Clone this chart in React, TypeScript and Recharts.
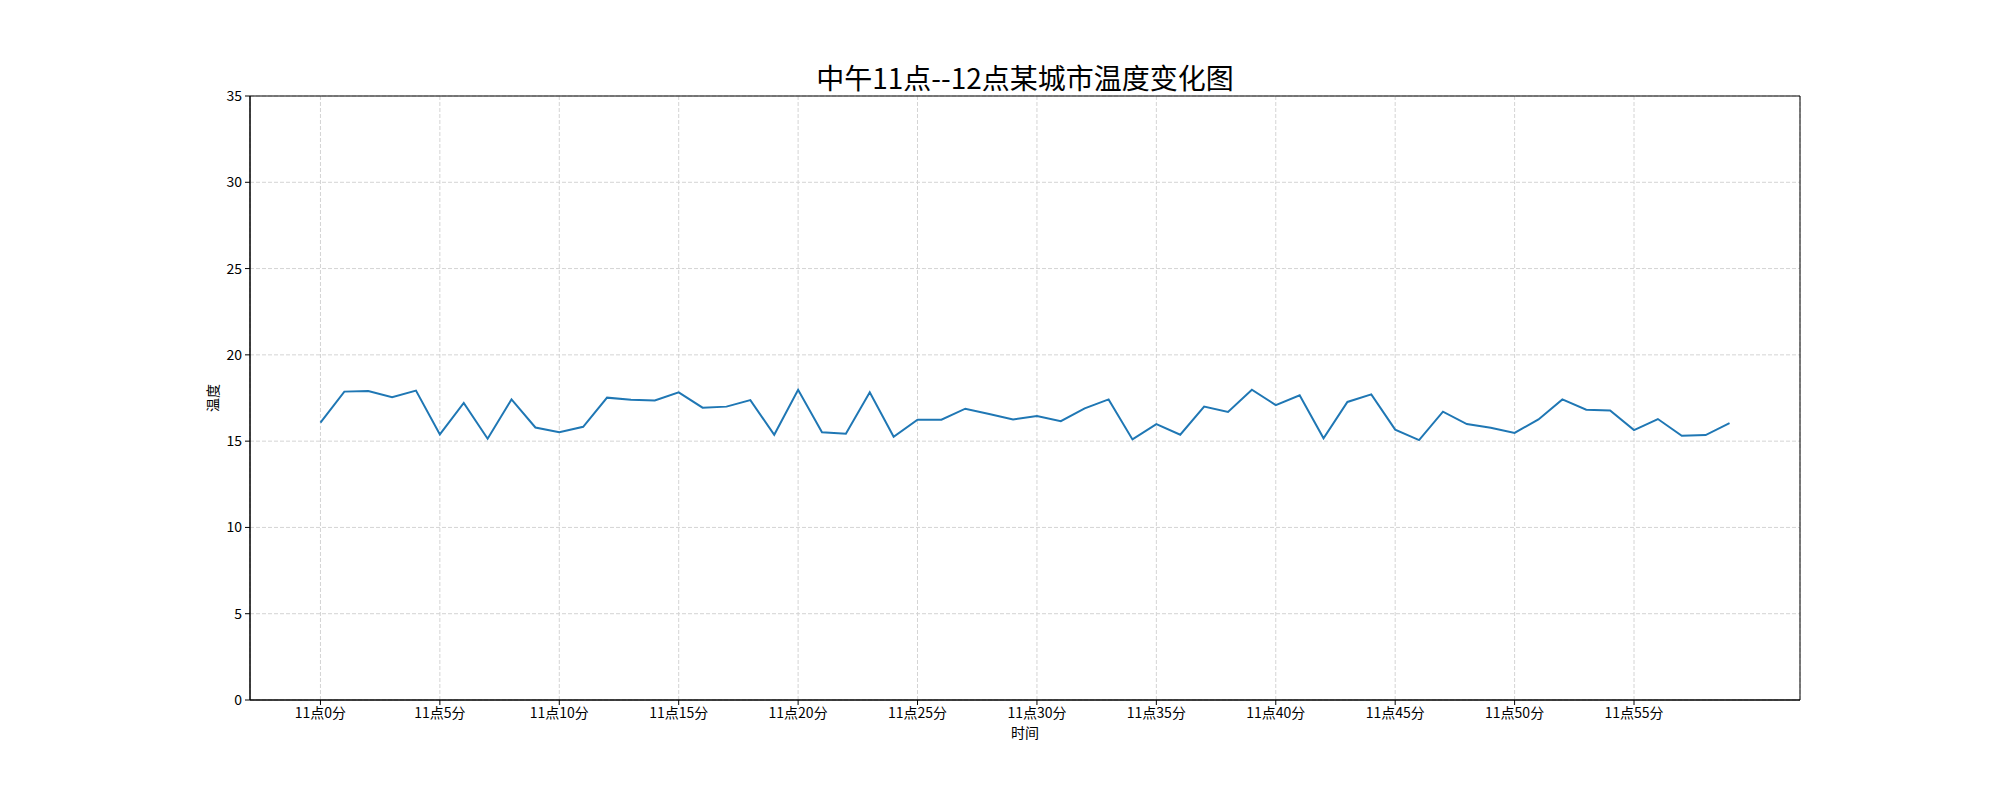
import React from 'react'
import { LineChart, Line, XAxis, YAxis, CartesianGrid, ReferenceArea } from 'recharts'

// minutes after 11:00
const minutes = [
  0, 1, 2, 3, 4, 5, 6, 7, 8, 9, 10, 11, 12, 13, 14, 15, 16, 17, 18, 19,
  20, 21, 22, 23, 24, 25, 26, 27, 28, 29, 30, 31, 32, 33, 34, 35, 36, 37, 38, 39,
  40, 41, 42, 43, 44, 45, 46, 47, 48, 49, 50, 51, 52, 53, 54, 55, 56, 57, 58, 59,
]

const temperatures = [
  16.07, 17.87, 17.91, 17.54, 17.93, 15.39, 17.21, 15.14, 17.42, 15.79,
  15.52, 15.83, 17.52, 17.4, 17.36, 17.83, 16.94, 17.0, 17.38, 15.37,
  17.98, 15.52, 15.43, 17.83, 15.25, 16.24, 16.24, 16.88, 16.57, 16.26,
  16.45, 16.16, 16.9, 17.42, 15.1, 15.99, 15.37, 17.0, 16.69, 17.98,
  17.09, 17.66, 15.17, 17.27, 17.71, 15.67, 15.06, 16.71, 15.99, 15.78,
  15.48, 16.26, 17.42, 16.82, 16.78, 15.64, 16.28, 15.31, 15.35, 16.05,
]

const xTicks = [0, 5, 10, 15, 20, 25, 30, 35, 40, 45, 50, 55]
const xTickLabels = [
  '11点0分', '11点5分', '11点10分', '11点15分', '11点20分', '11点25分',
  '11点30分', '11点35分', '11点40分', '11点45分', '11点50分', '11点55分',
]
const yTicks = [0, 5, 10, 15, 20, 25, 30, 35]

const data = minutes.map((m, i) => ({ minute: m, temp: temperatures[i] }))

const font = '"Noto Sans CJK SC", "Noto Sans", sans-serif'
const tickStyle = { fontSize: 14, fill: '#000', fontFamily: font }
const xDomain: [number, number] = [-2.95, 61.95]

export default function App() {
  return (
    <div style={{ position: 'absolute', left: 0, top: 0, width: 2000, height: 800, background: '#fff' }}>
      <LineChart
        width={2000}
        height={800}
        data={data}
        margin={{ top: 96, right: 200, left: 200, bottom: 60 }}
      >
        <CartesianGrid stroke="#d4d4d4" strokeDasharray="4 2" />
        <XAxis
          dataKey="minute"
          type="number"
          domain={xDomain}
          ticks={xTicks}
          tickFormatter={(v: number) => xTickLabels[xTicks.indexOf(v)]}
          height={40}
          stroke="#000"
          tickSize={5}
          tickMargin={3}
          tick={tickStyle}
          allowDataOverflow
        />
        <YAxis
          domain={[0, 35]}
          ticks={yTicks}
          width={50}
          stroke="#000"
          tickSize={5}
          tickMargin={3}
          tick={tickStyle}
        />
        {/* frame around the plot, like matplotlib spines */}
        <ReferenceArea x1={xDomain[0]} x2={xDomain[1]} y1={0} y2={35} fill="none" fillOpacity={0} stroke="#000" strokeWidth={1} />
        <Line
          dataKey="temp"
          stroke="#1f77b4"
          strokeWidth={2}
          dot={false}
          isAnimationActive={false}
        />
      </LineChart>
      <div style={{ position: 'absolute', left: 625, width: 800, top: 60, textAlign: 'center', fontSize: 28, lineHeight: '34px', fontFamily: font }}>
        中午11点--12点某城市温度变化图
      </div>
      <div style={{ position: 'absolute', left: 925, width: 200, top: 722, textAlign: 'center', fontSize: 14, lineHeight: '20px', fontFamily: font }}>
        时间
      </div>
      <div style={{ position: 'absolute', left: 162, width: 100, top: 388, textAlign: 'center', fontSize: 14, lineHeight: '20px', fontFamily: font, transform: 'rotate(-90deg)' }}>
        温度
      </div>
    </div>
  )
}
